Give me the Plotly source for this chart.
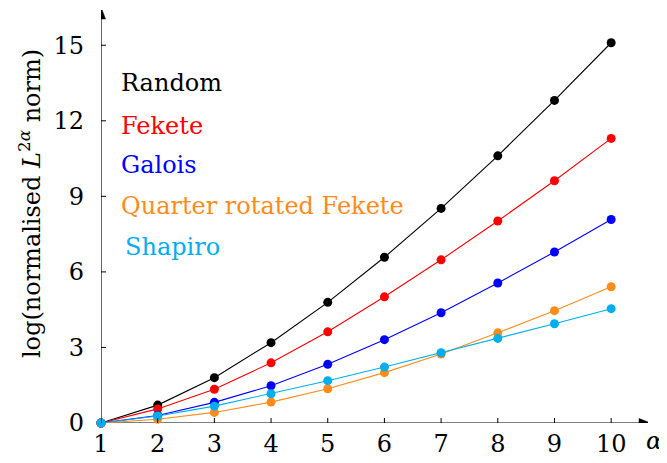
import plotly.graph_objects as go

alpha = [1, 2, 3, 4, 5, 6, 7, 8, 9, 10]
random_vals = [0, 0.71, 1.80, 3.19, 4.79, 6.58, 8.52, 10.61, 12.81, 15.10]
fekete_vals = [0, 0.56, 1.34, 2.39, 3.62, 5.01, 6.48, 8.02, 9.62, 11.30]
galois_vals = [0, 0.30, 0.82, 1.48, 2.33, 3.31, 4.38, 5.56, 6.79, 8.08]
quarter_vals = [0, 0.15, 0.42, 0.83, 1.36, 2.00, 2.74, 3.58, 4.46, 5.41]
shapiro_vals = [0, 0.28, 0.67, 1.16, 1.68, 2.22, 2.79, 3.36, 3.94, 4.54]

series_names = ["Random", "Fekete", "Galois", "Quarter rotated Fekete", "Shapiro"]
series_colors = ["#000000", "#ff0000", "#0000ff", "#ff8c1a", "#00aeef"]
series_values = [random_vals, fekete_vals, galois_vals, quarter_vals, shapiro_vals]
label_y = [13.5, 11.8, 10.25, 8.6, 7.0]
label_x_shift = [-3, -3, -3, -3, 1]

x_ticks = [1, 2, 3, 4, 5, 6, 7, 8, 9, 10]
y_ticks = [0, 3, 6, 9, 12, 15]

FONT = "DejaVu Serif, serif"
FS = 24

fig = go.Figure()
for i in range(len(series_names)):
    fig.add_trace(go.Scatter(
        x=alpha, y=series_values[i], mode="lines+markers",
        line=dict(color=series_colors[i], width=1.1),
        marker=dict(color=series_colors[i], size=9),
        cliponaxis=False, showlegend=False, name=series_names[i]))

XMAX = 10.65
YMAX = 16.4

# legend labels as text
for i, name in enumerate(series_names):
    fig.add_annotation(x=1.37, y=label_y[i], xref="x", yref="y", text=name,
                       showarrow=False, xanchor="left", yanchor="middle",
                       xshift=label_x_shift[i],
                       font=dict(family=FONT, size=FS, color=series_colors[i]))

# axis lines
fig.add_shape(type="line", xref="x", yref="y", x0=1, x1=XMAX, y0=0, y1=0,
              line=dict(color="black", width=1.2), layer="below")
fig.add_shape(type="line", xref="x", yref="y", x0=1, x1=1, y0=0, y1=YMAX,
              line=dict(color="black", width=1.2), layer="below")
# arrowheads
fig.add_shape(type="path", xref="x", yref="y", xsizemode="pixel", ysizemode="pixel",
              xanchor=XMAX, yanchor=0, path="M 3,0 L -9,4.5 L -9,-4.5 Z",
              fillcolor="black", line=dict(color="black", width=0.5))
fig.add_shape(type="path", xref="x", yref="y", xsizemode="pixel", ysizemode="pixel",
              xanchor=1, yanchor=YMAX, path="M 0,3 L -4.5,-9 L 4.5,-9 Z",
              fillcolor="black", line=dict(color="black", width=0.5))

# crossing ticks
for t in x_ticks:
    fig.add_shape(type="line", xref="x", yref="y",
                  ysizemode="pixel", yanchor=0, x0=t, x1=t, y0=-5, y1=5,
                  line=dict(color="black", width=1))
for t in y_ticks[1:]:
    fig.add_shape(type="line", xref="x", yref="y", xsizemode="pixel",
                  xanchor=1, y0=t, y1=t, x0=-5, x1=5,
                  line=dict(color="black", width=1))

# axis labels
fig.add_annotation(x=XMAX, y=0, xref="x", yref="y", text="<i>α</i>",
                   showarrow=False, xanchor="center", yanchor="middle",
                   xshift=6, yshift=-18,
                   font=dict(family=FONT, size=FS, color="black"))
fig.add_annotation(x=0, y=0.53, xref="paper", yref="paper",
                   text="log(normalised <i>L</i><sup>2<i>α</i></sup> norm)",
                   textangle=-90, showarrow=False, xanchor="center",
                   yanchor="middle", xshift=-71,
                   font=dict(family=FONT, size=FS, color="black"))

fig.update_xaxes(range=[1, XMAX], tickvals=x_ticks, ticktext=[str(t) for t in x_ticks],
                 showgrid=False, zeroline=False, showline=False, automargin=False,
                 ticks="", ticklabelstandoff=4,
                 tickfont=dict(family=FONT, size=FS, color="black"))
fig.update_yaxes(range=[0, YMAX], tickvals=y_ticks, ticktext=[str(t) for t in y_ticks],
                 showgrid=False, zeroline=False, showline=False, automargin=False,
                 ticks="", ticklabelstandoff=16,
                 tickfont=dict(family=FONT, size=FS, color="black"))

# page body has an 8px margin: figure size/margins compensate
fig.update_layout(width=659, height=455, margin=dict(l=93, r=19, t=2, b=40),
                  plot_bgcolor="white", paper_bgcolor="white",
                  font=dict(family=FONT, size=FS, color="black"))

fig.write_html("out.html")
